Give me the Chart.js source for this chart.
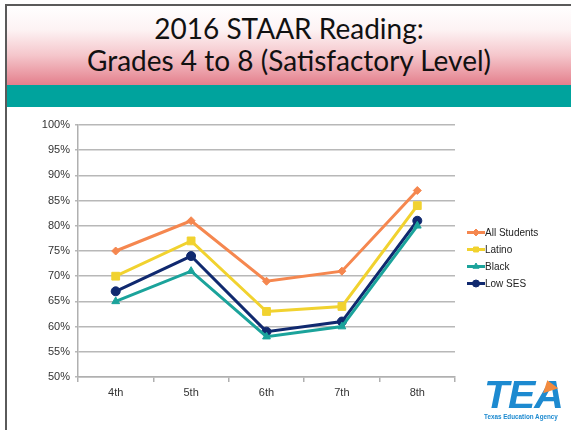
<!DOCTYPE html>
<html>
<head>
<meta charset="utf-8">
<script src="https://cdn.jsdelivr.net/npm/chart.js@4.4.1/dist/chart.umd.min.js"></script>
<style>
  html, body { margin: 0; padding: 0; background: #fff; }
  #slide { position: relative; width: 571px; height: 430px; overflow: hidden; background: #fff; }
  #frameTop { position: absolute; left: 5px; top: 4px; width: 566px; height: 2px; background: #5a5a5a; }
  #frameLeft { position: absolute; left: 5px; top: 4px; width: 2px; height: 426px; background: #5a5a5a; }
  #header {
    position: absolute; left: 7px; top: 6px; width: 564px; height: 79px;
    background: linear-gradient(to bottom, #ffffff 0%, #fdf3f4 30%, #f5c7cc 62%, #e47f8c 100%);
  }
  #title {
    position: absolute; left: 7px; top: 12px; width: 564px; text-align: center;
    font-family: Lato, "Open Sans", sans-serif; font-size: 28px; line-height: 32px; color: #111;
  }
  #band { position: absolute; left: 7px; top: 85px; width: 564px; height: 22px; background: #00a39d; }
  #chartBox { position: absolute; left: 0; top: 108px; width: 571px; height: 322px; }
  #logo {
    position: absolute; left: 484px; top: 377px; width: 80px;
    font-family: "Liberation Sans", Arial, sans-serif; color: #1d8ad0;
  }
  #logo .big { font-size: 39px; font-weight: bold; font-style: italic; line-height: 36px; letter-spacing: -1px; transform: scaleX(1.05); transform-origin: left; }
  #logo .small { font-size: 6.3px; font-weight: bold; line-height: 8px; white-space: nowrap; }
  #cap {
    position: absolute; left: 541px; top: 380px; width: 0; height: 0;
    border-left: 8px solid transparent; border-right: 8px solid transparent; border-bottom: 11px solid #f28a3e;
    transform: rotate(-18deg);
  }
</style>
</head>
<body>
<div id="slide">
  <div id="header"></div>
  <div id="frameTop"></div>
  <div id="frameLeft"></div>
  <div id="title">2016 STAAR Reading:<br>Grades 4 to 8 (Satisfactory Level)</div>
  <div id="band"></div>
  <div id="chartBox"><canvas id="staarChart"></canvas></div>
  <div id="logo"><div class="big">TEA</div><div class="small">Texas Education Agency</div></div>
  <div id="cap"></div>
</div>
<script>
// 年级与各群体通过率 (%)
const grades = ['4th', '5th', '6th', '7th', '8th'];
const allStudents = [75, 81, 69, 71, 87];
const latino = [70, 77, 63, 64, 84];
const black = [65, 71, 58, 60, 80];
const lowSes = [67, 74, 59, 61, 81];
const yTicks = [50, 55, 60, 65, 70, 75, 80, 85, 90, 95, 100];

// 折线样式
function lineSet(label, data, color, pointStyle, radius) {
    return {
        label: label,
        data: data,
        borderColor: color,
        backgroundColor: color,
        borderWidth: 3,
        pointStyle: pointStyle,
        pointRadius: radius,
        pointBorderWidth: 1,
        tension: 0,
        fill: false
    };
}

// 右侧图例（线段 + 标记）
const sideLegend = {
    id: 'sideLegend',
    afterDraw(chart) {
        const ctx = chart.ctx;
        const area = chart.chartArea;
        const x0 = area.right + 12;
        const rowH = 17;
        let y = (area.top + area.bottom) / 2 + 7 - rowH * 1.5;
        ctx.save();
        chart.data.datasets.forEach(ds => {
            ctx.strokeStyle = ds.borderColor;
            ctx.fillStyle = ds.borderColor;
            ctx.lineWidth = 3;
            ctx.beginPath();
            ctx.moveTo(x0, y);
            ctx.lineTo(x0 + 18, y);
            ctx.stroke();
            ctx.lineWidth = 1;
            Chart.helpers.drawPoint(ctx, { pointStyle: ds.pointStyle, radius: Math.min(ds.pointRadius, 3.5), borderWidth: 1, rotation: 0 }, x0 + 9, y);
            ctx.fillStyle = '#222';
            ctx.font = '10px "Liberation Sans", Arial, sans-serif';
            ctx.textBaseline = 'middle';
            ctx.textAlign = 'left';
            ctx.fillText(ds.label, x0 + 18, y + 0.5);
            y += rowH;
        });
        ctx.restore();
    }
};

const ctx = document.getElementById('staarChart').getContext('2d');
const chart = new Chart(ctx, {
    type: 'line',
    data: {
        labels: grades,
        datasets: [
            lineSet('All Students', allStudents, '#f5874f', 'rectRot', 4),
            lineSet('Latino', latino, '#f1d22f', 'rect', 5.5),
            lineSet('Black', black, '#1ba39b', 'triangle', 4.5),
            lineSet('Low SES', lowSes, '#10296f', 'circle', 4.5)
        ]
    },
    options: {
        responsive: true,
        maintainAspectRatio: false,
        animation: false,
        layout: { padding: { left: 0, top: 17, right: 116, bottom: 0 } },
        plugins: {
            legend: { display: false },
            tooltip: { enabled: false }
        },
        scales: {
            x: {
                offset: true,
                grid: {
                    display: true,
                    offset: true,
                    drawOnChartArea: false,
                    drawTicks: true,
                    tickLength: 5,
                    color: '#b0b0b0',
                    lineWidth: 1.5
                },
                border: { color: '#b0b0b0', width: 1.5 },
                ticks: {
                    color: '#333',
                    padding: 4,
                    font: { family: '"Liberation Sans", Arial, sans-serif', size: 11 }
                },
                afterFit(scale) { scale.height = 53; }
            },
            y: {
                min: 50,
                max: 100,
                afterBuildTicks(scale) { scale.ticks = yTicks.map(v => ({ value: v })); },
                grid: {
                    color: '#b8b8b8',
                    lineWidth: 1.5,
                    drawTicks: true,
                    tickLength: 3
                },
                border: { color: '#b0b0b0', width: 1.5 },
                ticks: {
                    color: '#333',
                    padding: 5,
                    font: { family: '"Liberation Sans", Arial, sans-serif', size: 11 },
                    callback: v => v + '%'
                },
                afterFit(scale) { scale.width = 78; }
            }
        }
    },
    plugins: [sideLegend]
});
</script>
</body>
</html>
